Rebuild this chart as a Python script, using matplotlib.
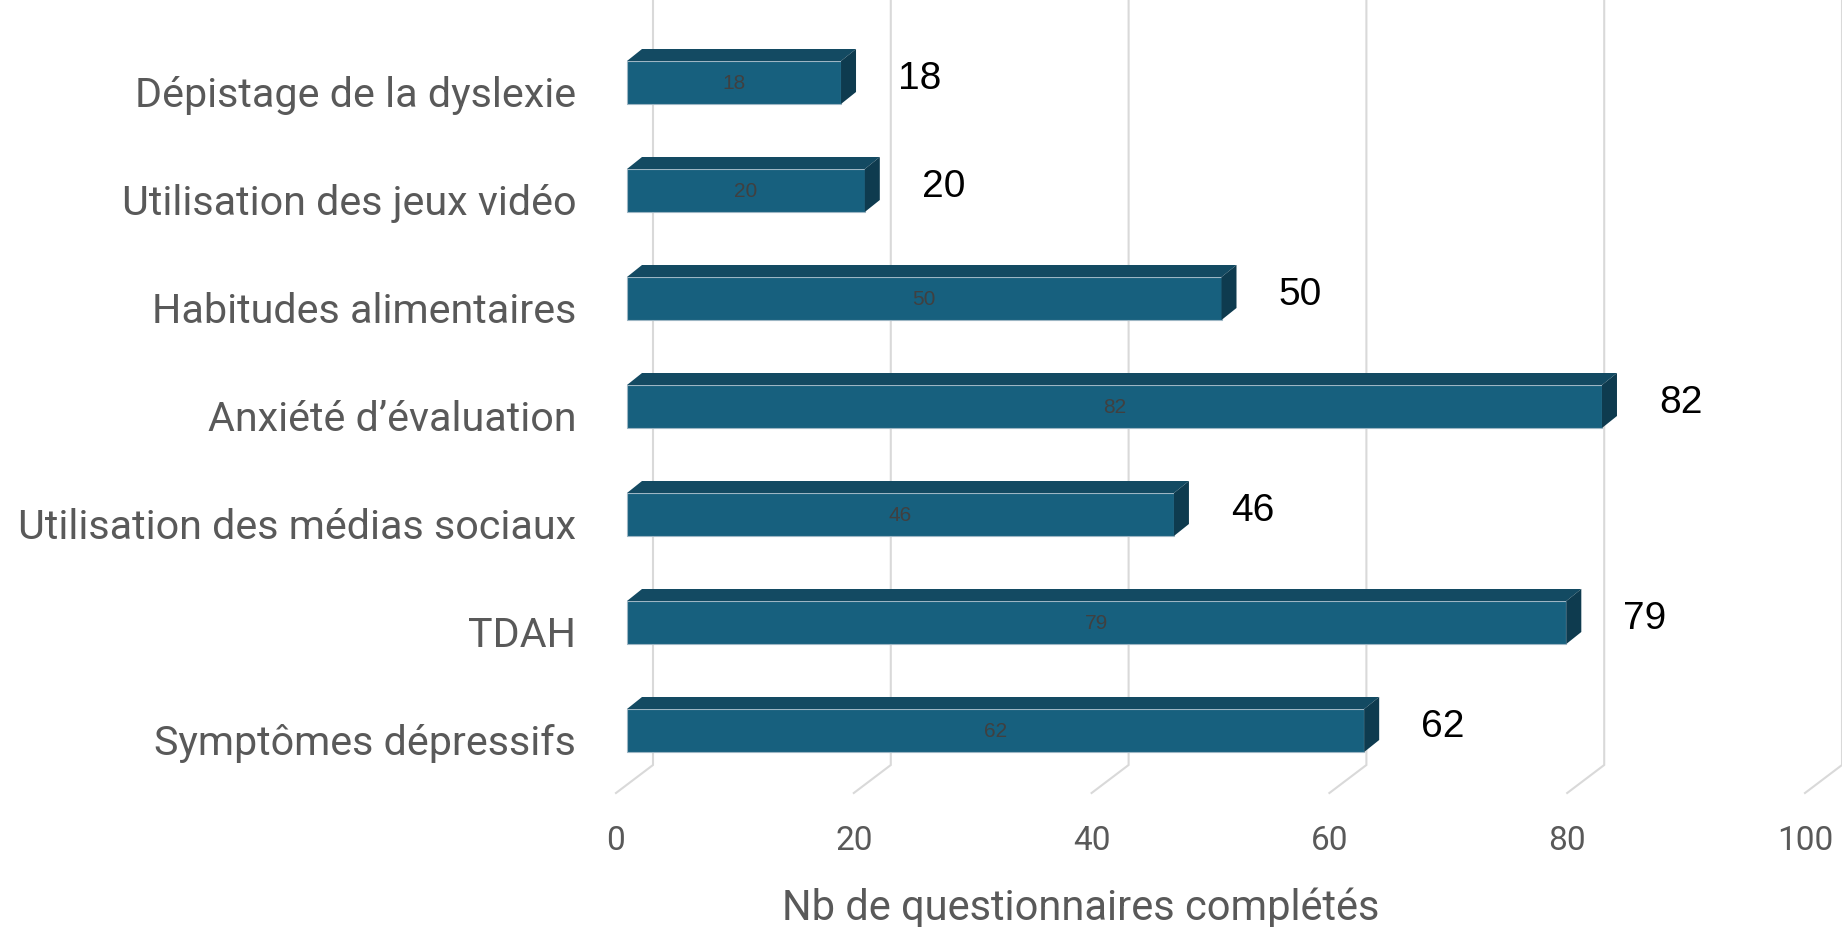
import matplotlib
matplotlib.use("Agg")
import matplotlib.pyplot as plt
from matplotlib.patches import Polygon

categories = [
    "Dépistage de la dyslexie",
    "Utilisation des jeux vidéo",
    "Habitudes alimentaires",
    "Anxiété d’évaluation",
    "Utilisation des médias sociaux",
    "TDAH",
    "Symptômes dépressifs",
]
values = [18, 20, 50, 82, 46, 79, 62]
xticks = [0, 20, 40, 60, 80, 100]
xlabel = "Nb de questionnaires complétés"

FRONT = "#17607e"
TOP = "#134a62"
SIDE = "#0e3b4f"
GRID = "#d9d9d9"
LABEL = "#595959"

# pixel scale of the front plane: 11.89 px per unit, 108 px per category
PX_X = 11.89
PX_Y = 108.0
W, H = 1842, 927
X0, Y0 = 627, 82.5          # bar origin / first bar center in pixels

fig = plt.figure(figsize=(W / 100, H / 100), dpi=100)
ax = fig.add_axes([0, 0, 1, 1])
ax.set_xlim(-X0 / PX_X, (W - X0) / PX_X)
ax.set_ylim((H - Y0) / PX_Y, -Y0 / PX_Y)
ax.axis("off")

# oblique offsets (in data units)
bar_dx, bar_dy = 15 / PX_X, -12 / PX_Y
bar_h = 43 / PX_Y
wall_x = 26 / PX_X
floor_x = -11 / PX_X
wall_y = (765 - Y0) / PX_Y
floor_y = (793 - Y0) / PX_Y
top_y = -Y0 / PX_Y

# back wall gridlines and floor ticks
for t in xticks:
    ax.plot([t + wall_x, t + wall_x, t + floor_x], [top_y, wall_y, floor_y],
            color=GRID, lw=1.5, solid_joinstyle="miter", zorder=1)
    ax.text(t + floor_x, (841 - Y0) / PX_Y, str(t), ha="center", va="center",
            fontsize=24, color=LABEL, family="Roboto")

pos = list(range(len(categories)))
ax.barh(pos, values, height=bar_h, left=0, color=FRONT, edgecolor="#9db6c4",
        linewidth=0.8, zorder=3)

for i, v in zip(pos, values):
    yt = i - bar_h / 2
    yb = i + bar_h / 2
    top = Polygon([(0, yt), (v, yt), (v + bar_dx, yt + bar_dy), (bar_dx, yt + bar_dy)],
                  closed=True, facecolor=TOP, edgecolor="none", zorder=3)
    side = Polygon([(v, yt), (v, yb), (v + bar_dx, yb + bar_dy), (v + bar_dx, yt + bar_dy)],
                   closed=True, facecolor=SIDE, edgecolor="none", zorder=3)
    ax.add_patch(top)
    ax.add_patch(side)
    # small label on the bar face
    ax.text(v / 2, i + 0.01, str(v), ha="center", va="center", fontsize=15,
            color="#404040", family="Liberation Sans", zorder=4)
    # large label beside the bar
    ax.text(v + 4.8, i - 0.03, str(v), ha="left", va="center", fontsize=28,
            color="black", family="Liberation Sans", zorder=4)
    # category label
    ax.text((576 - X0) / PX_X, i + 0.118, categories[i], ha="right", va="center",
            fontsize=29.7, color=LABEL, family="Roboto")

ax.text((1081 - X0) / PX_X, (908 - Y0) / PX_Y, xlabel, ha="center", va="center",
        fontsize=30, color=LABEL, family="Roboto")

fig.savefig("out.png", dpi=100)
